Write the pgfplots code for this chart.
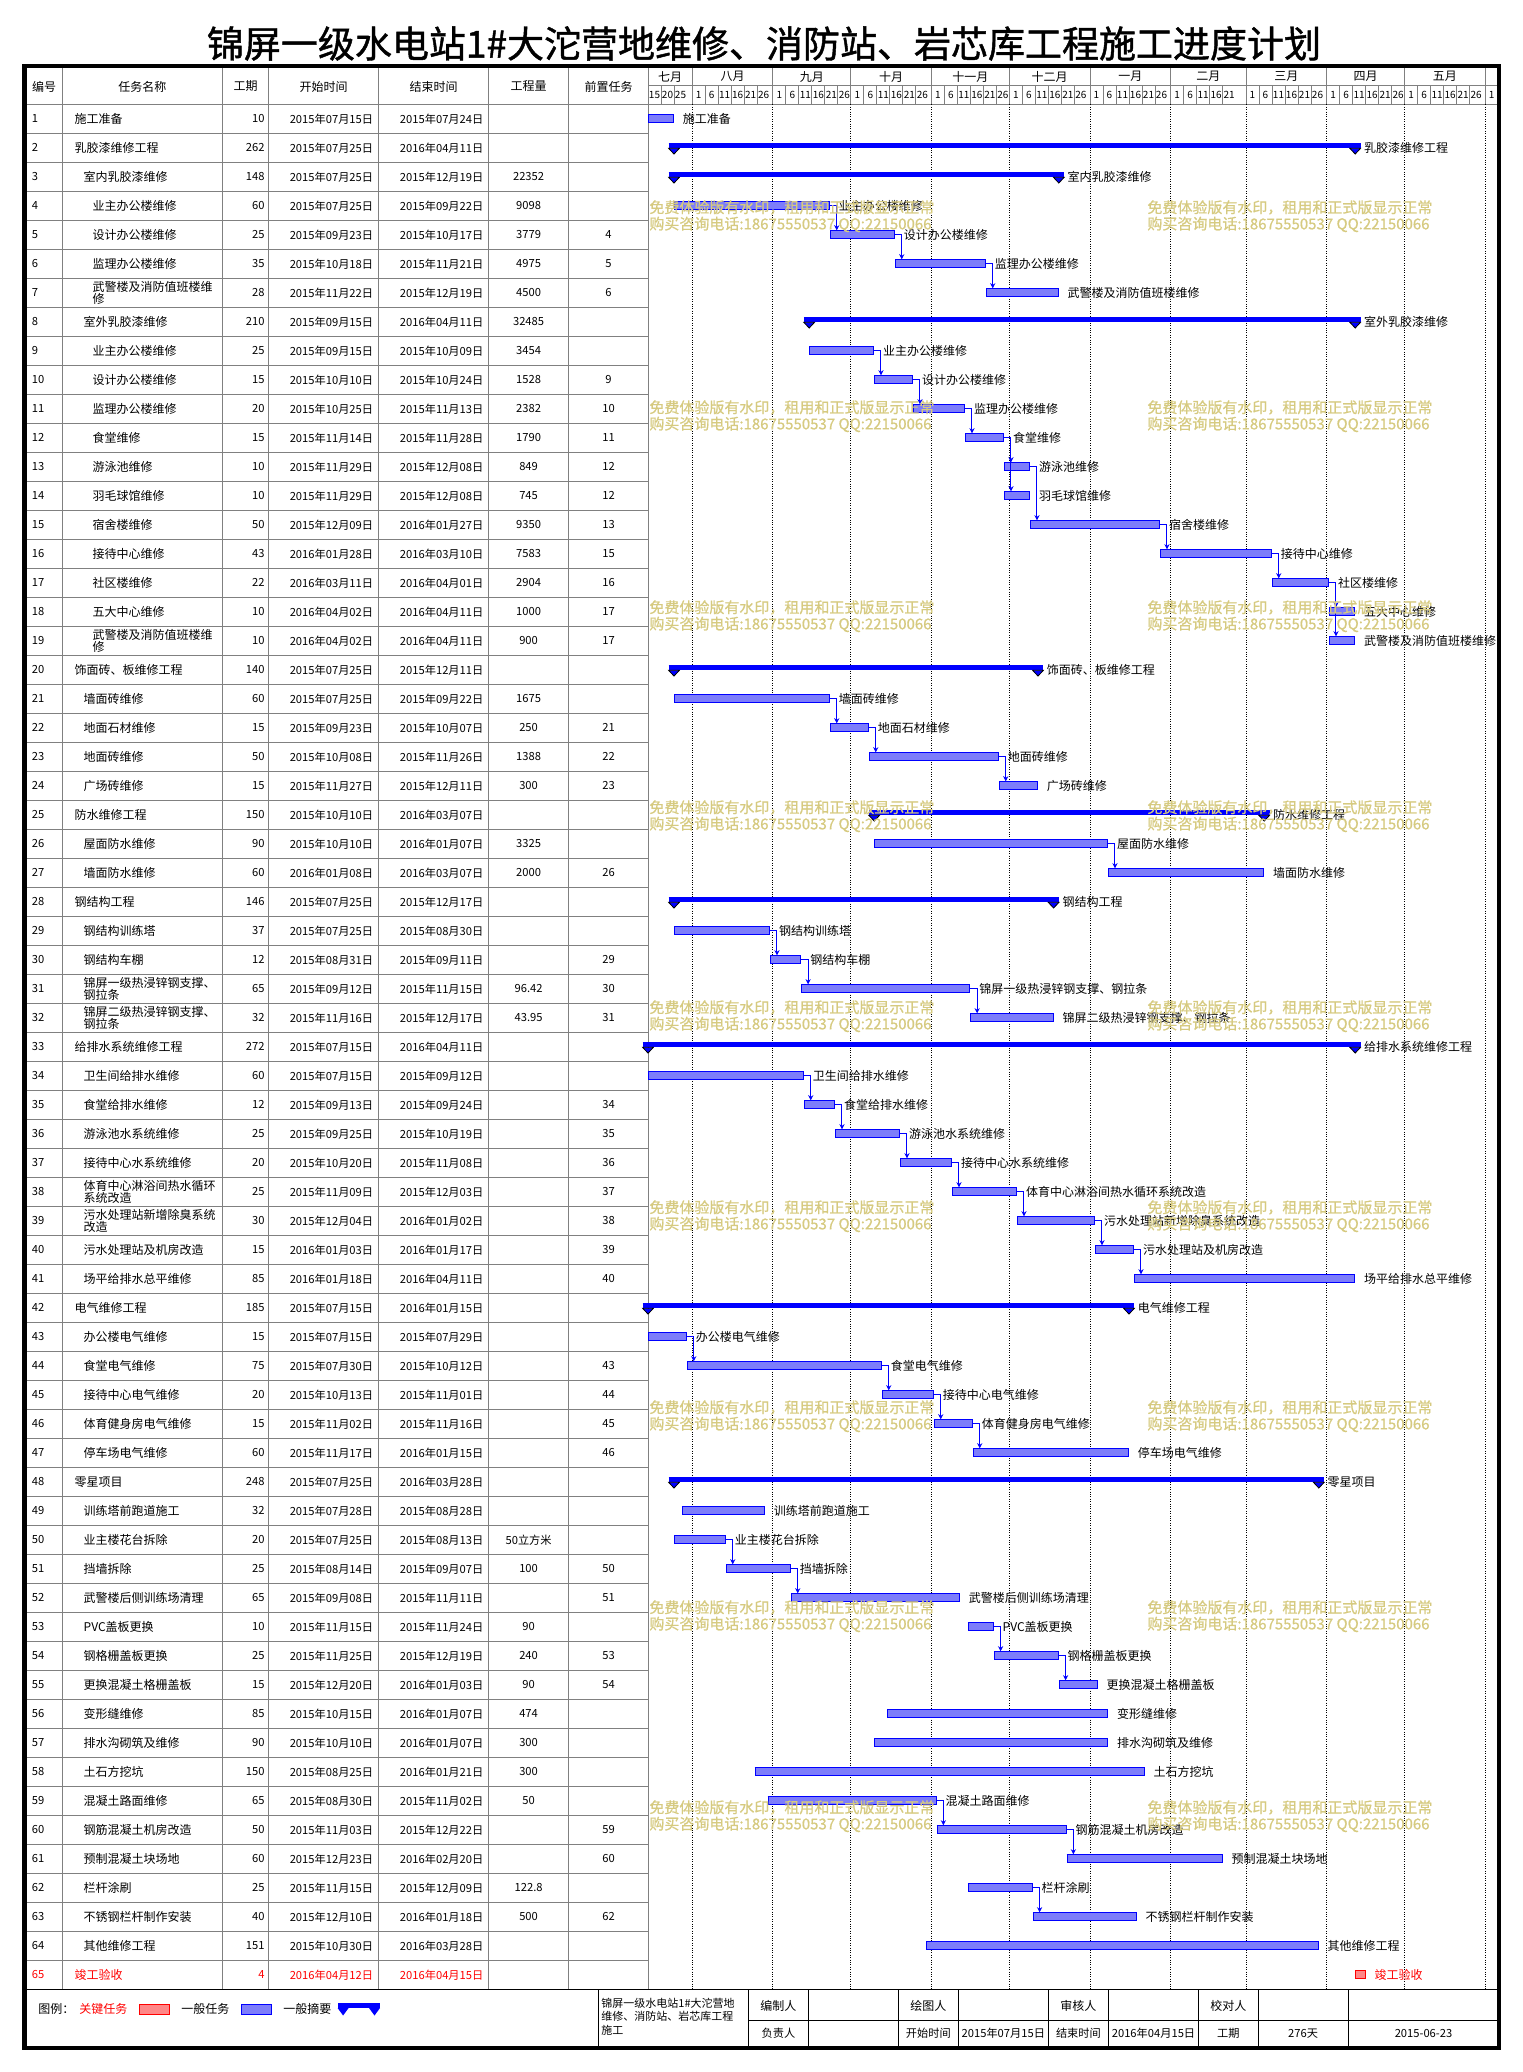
\documentclass[border=0pt]{standalone}
\usepackage{fontspec}
\setmainfont{Noto Sans CJK SC}
\newfontfamily\titlefont[FakeBold=1.2]{Noto Sans CJK SC}
\newfontfamily\wmfont[FakeBold=0.8]{Noto Sans CJK SC}
\usepackage{pgfplots}
\usepackage{pgfplotstable}
\pgfplotsset{compat=1.18}
\usetikzlibrary{arrows.meta}
\definecolor{barfill}{RGB}{125,125,250}
\definecolor{critfill}{RGB}{255,135,135}
\definecolor{wm}{RGB}{214,202,128}
\definecolor{gridgray}{RGB}{128,128,128}
\newcommand\tf{\fontsize{6}{6.2}\selectfont}
\newcommand\nf{\fontsize{5.6}{6.2}\selectfont}

\pgfplotstableread{
r s d name
1 0 10 施工准备
4 10 60 业主办公楼维修
5 70 25 设计办公楼维修
6 95 35 监理办公楼维修
7 130 28 武警楼及消防值班楼维修
9 62 25 业主办公楼维修
10 87 15 设计办公楼维修
11 102 20 监理办公楼维修
12 122 15 食堂维修
13 137 10 游泳池维修
14 137 10 羽毛球馆维修
15 147 50 宿舍楼维修
16 197 43 接待中心维修
17 240 22 社区楼维修
18 262 10 五大中心维修
19 262 10 武警楼及消防值班楼维修
21 10 60 墙面砖维修
22 70 15 地面石材维修
23 85 50 地面砖维修
24 135 15 广场砖维修
26 87 90 屋面防水维修
27 177 60 墙面防水维修
29 10 37 钢结构训练塔
30 47 12 钢结构车棚
31 59 65 锦屏一级热浸锌钢支撑、钢拉条
32 124 32 锦屏二级热浸锌钢支撑、钢拉条
34 0 60 卫生间给排水维修
35 60 12 食堂给排水维修
36 72 25 游泳池水系统维修
37 97 20 接待中心水系统维修
38 117 25 体育中心淋浴间热水循环系统改造
39 142 30 污水处理站新增除臭系统改造
40 172 15 污水处理站及机房改造
41 187 85 场平给排水总平维修
43 0 15 办公楼电气维修
44 15 75 食堂电气维修
45 90 20 接待中心电气维修
46 110 15 体育健身房电气维修
47 125 60 停车场电气维修
49 13 32 训练塔前跑道施工
50 10 20 业主楼花台拆除
51 30 25 挡墙拆除
52 55 65 武警楼后侧训练场清理
53 123 10 PVC盖板更换
54 133 25 钢格栅盖板更换
55 158 15 更换混凝土格栅盖板
56 92 85 变形缝维修
57 87 90 排水沟砌筑及维修
58 41 150 土石方挖坑
59 46 65 混凝土路面维修
60 111 50 钢筋混凝土机房改造
61 161 60 预制混凝土块场地
62 123 25 栏杆涂刷
63 148 40 不锈钢栏杆制作安装
64 107 151 其他维修工程
}\regular

\pgfplotstableread{
r s d name
2 10 262 乳胶漆维修工程
3 10 148 室内乳胶漆维修
8 62 210 室外乳胶漆维修
20 10 140 饰面砖、板维修工程
25 87 150 防水维修工程
28 10 146 钢结构工程
33 0 272 给排水系统维修工程
42 0 185 电气维修工程
48 10 248 零星项目
}\summary

\pgfplotstableread{
r s d name
65 272 4 竣工验收
}\critical

\begin{document}
\begin{tikzpicture}
\begin{scope}[x=0.5pt,y=-0.5pt]
% title
\node[font=\titlefont\fontsize{18.5}{20}\selectfont, inner sep=0pt] at (764,43.5) {锦屏一级水电站1\#大沱营地维修、消防站、岩芯库工程施工进度计划};
% table grid
\foreach \k in {0,...,64} \draw[gridgray, line width=0.5pt] (26,{104.3+29*\k}) -- (648,{104.3+29*\k});
\foreach \x in {62.4,222.4,268.6,378.4,488.6,568.6,648} \draw[gridgray, line width=0.5pt] (\x,68) -- (\x,1989.3);
% gantt header
\draw[gridgray, line width=0.5pt] (648,85) -- (1497,85);
\draw[gridgray, line width=0.5pt] (648,104.3) -- (1497,104.3);
\foreach \d in {17,48,78,109,139,170,201,230,261,291,322}
  \draw[gridgray, line width=0.5pt] ({648+2.6*\d},68) -- ({648+2.6*\d},104.3);
\foreach \d in {5,10,22,27,32,37,42,53,58,63,68,73,83,88,93,98,103,114,119,124,129,134,144,149,154,159,164,175,180,185,190,195,206,211,216,221,235,240,245,250,255,266,271,276,281,286,296,301,306,311,316}
  \draw[gridgray, line width=0.5pt] ({648+2.6*\d},85) -- ({648+2.6*\d},104.3);
\foreach \c/\m in {8.5/七月,32.5/八月,63/九月,93.5/十月,124/十一月,154.5/十二月,185.5/一月,215.5/二月,245.5/三月,276/四月,306.5/五月}
  \node[font=\tf, inner sep=0pt] at ({648+2.6*\c},76.7) {\m};
\foreach \d/\l in {0/15,5/20,10/25,17/1,22/6,27/11,32/16,37/21,42/26,48/1,53/6,58/11,63/16,68/21,73/26,78/1,83/6,88/11,93/16,98/21,103/26,109/1,114/6,119/11,124/16,129/21,134/26,139/1,144/6,149/11,154/16,159/21,164/26,170/1,175/6,180/11,185/16,190/21,195/26,201/1,206/6,211/11,216/16,221/21,230/1,235/6,240/11,245/16,250/21,255/26,261/1,266/6,271/11,276/16,281/21,286/26,291/1,296/6,301/11,306/16,311/21,316/26,322/1}
  \node[font=\fontsize{5}{5}\selectfont, inner sep=0pt] at ({648+2.6*(\d+2.5)},94.6) {\l};
% table header labels
\foreach \x/\t in {44.2/编号,142.4/任务名称,245.5/工期,323.5/开始时间,433.5/结束时间,528.6/工程量,608.5/前置任务}
  \node[font=\tf, inner sep=0pt] at (\x,86.5) {\t};
% rows
\foreach \i/\lv/\nm/\du/\sd/\ed/\q/\p in {
1/1/施工准备/10/2015年07月15日/2015年07月24日/{}/{},
2/1/乳胶漆维修工程/262/2015年07月25日/2016年04月11日/{}/{},
3/2/室内乳胶漆维修/148/2015年07月25日/2015年12月19日/22352/{},
4/3/业主办公楼维修/60/2015年07月25日/2015年09月22日/9098/{},
5/3/设计办公楼维修/25/2015年09月23日/2015年10月17日/3779/4,
6/3/监理办公楼维修/35/2015年10月18日/2015年11月21日/4975/5,
7/3/{武警楼及消防值班楼维\\修}/28/2015年11月22日/2015年12月19日/4500/6,
8/2/室外乳胶漆维修/210/2015年09月15日/2016年04月11日/32485/{},
9/3/业主办公楼维修/25/2015年09月15日/2015年10月09日/3454/{},
10/3/设计办公楼维修/15/2015年10月10日/2015年10月24日/1528/9,
11/3/监理办公楼维修/20/2015年10月25日/2015年11月13日/2382/10,
12/3/食堂维修/15/2015年11月14日/2015年11月28日/1790/11,
13/3/游泳池维修/10/2015年11月29日/2015年12月08日/849/12,
14/3/羽毛球馆维修/10/2015年11月29日/2015年12月08日/745/12,
15/3/宿舍楼维修/50/2015年12月09日/2016年01月27日/9350/13,
16/3/接待中心维修/43/2016年01月28日/2016年03月10日/7583/15,
17/3/社区楼维修/22/2016年03月11日/2016年04月01日/2904/16,
18/3/五大中心维修/10/2016年04月02日/2016年04月11日/1000/17,
19/3/{武警楼及消防值班楼维\\修}/10/2016年04月02日/2016年04月11日/900/17,
20/1/饰面砖、板维修工程/140/2015年07月25日/2015年12月11日/{}/{},
21/2/墙面砖维修/60/2015年07月25日/2015年09月22日/1675/{},
22/2/地面石材维修/15/2015年09月23日/2015年10月07日/250/21,
23/2/地面砖维修/50/2015年10月08日/2015年11月26日/1388/22,
24/2/广场砖维修/15/2015年11月27日/2015年12月11日/300/23,
25/1/防水维修工程/150/2015年10月10日/2016年03月07日/{}/{},
26/2/屋面防水维修/90/2015年10月10日/2016年01月07日/3325/{},
27/2/墙面防水维修/60/2016年01月08日/2016年03月07日/2000/26,
28/1/钢结构工程/146/2015年07月25日/2015年12月17日/{}/{},
29/2/钢结构训练塔/37/2015年07月25日/2015年08月30日/{}/{},
30/2/钢结构车棚/12/2015年08月31日/2015年09月11日/{}/29,
31/2/{锦屏一级热浸锌钢支撑、\\钢拉条}/65/2015年09月12日/2015年11月15日/96.42/30,
32/2/{锦屏二级热浸锌钢支撑、\\钢拉条}/32/2015年11月16日/2015年12月17日/43.95/31,
33/1/给排水系统维修工程/272/2015年07月15日/2016年04月11日/{}/{},
34/2/卫生间给排水维修/60/2015年07月15日/2015年09月12日/{}/{},
35/2/食堂给排水维修/12/2015年09月13日/2015年09月24日/{}/34,
36/2/游泳池水系统维修/25/2015年09月25日/2015年10月19日/{}/35,
37/2/接待中心水系统维修/20/2015年10月20日/2015年11月08日/{}/36,
38/2/{体育中心淋浴间热水循环\\系统改造}/25/2015年11月09日/2015年12月03日/{}/37,
39/2/{污水处理站新增除臭系统\\改造}/30/2015年12月04日/2016年01月02日/{}/38,
40/2/污水处理站及机房改造/15/2016年01月03日/2016年01月17日/{}/39,
41/2/场平给排水总平维修/85/2016年01月18日/2016年04月11日/{}/40,
42/1/电气维修工程/185/2015年07月15日/2016年01月15日/{}/{},
43/2/办公楼电气维修/15/2015年07月15日/2015年07月29日/{}/{},
44/2/食堂电气维修/75/2015年07月30日/2015年10月12日/{}/43,
45/2/接待中心电气维修/20/2015年10月13日/2015年11月01日/{}/44,
46/2/体育健身房电气维修/15/2015年11月02日/2015年11月16日/{}/45,
47/2/停车场电气维修/60/2015年11月17日/2016年01月15日/{}/46,
48/1/零星项目/248/2015年07月25日/2016年03月28日/{}/{},
49/2/训练塔前跑道施工/32/2015年07月28日/2015年08月28日/{}/{},
50/2/业主楼花台拆除/20/2015年07月25日/2015年08月13日/50立方米/{},
51/2/挡墙拆除/25/2015年08月14日/2015年09月07日/100/50,
52/2/武警楼后侧训练场清理/65/2015年09月08日/2015年11月11日/{}/51,
53/2/PVC盖板更换/10/2015年11月15日/2015年11月24日/90/{},
54/2/钢格栅盖板更换/25/2015年11月25日/2015年12月19日/240/53,
55/2/更换混凝土格栅盖板/15/2015年12月20日/2016年01月03日/90/54,
56/2/变形缝维修/85/2015年10月15日/2016年01月07日/474/{},
57/2/排水沟砌筑及维修/90/2015年10月10日/2016年01月07日/300/{},
58/2/土石方挖坑/150/2015年08月25日/2016年01月21日/300/{},
59/2/混凝土路面维修/65/2015年08月30日/2015年11月02日/50/{},
60/2/钢筋混凝土机房改造/50/2015年11月03日/2015年12月22日/{}/59,
61/2/预制混凝土块场地/60/2015年12月23日/2016年02月20日/{}/60,
62/2/栏杆涂刷/25/2015年11月15日/2015年12月09日/122.8/{},
63/2/不锈钢栏杆制作安装/40/2015年12月10日/2016年01月18日/500/62,
64/2/其他维修工程/151/2015年10月30日/2016年03月28日/{}/{}}
{
  \node[font=\nf, anchor=west, inner sep=0pt] at (31.4,{89.8+29*\i}) {\i};
  \node[font=\tf, anchor=west, inner sep=0pt, align=left] at ({65.3+9*\lv},{89.8+29*\i}) {\nm};
  \node[font=\nf, anchor=east, inner sep=0pt] at (265,{89.8+29*\i}) {\du};
  \node[font=\nf, anchor=east, inner sep=0pt] at (373.5,{89.8+29*\i}) {\sd};
  \node[font=\nf, anchor=east, inner sep=0pt] at (483.7,{89.8+29*\i}) {\ed};
  \node[font=\nf, inner sep=0pt] at (528.6,{89.8+29*\i}) {\q};
  \node[font=\nf, inner sep=0pt] at (608.5,{89.8+29*\i}) {\p};
}
\node[font=\nf, anchor=west, inner sep=0pt, text=red] at (31.4,1974.8) {65};
\node[font=\tf, anchor=west, inner sep=0pt, text=red] at (74.3,1974.8) {竣工验收};
\node[font=\nf, anchor=east, inner sep=0pt, text=red] at (265,1974.8) {4};
\node[font=\nf, anchor=east, inner sep=0pt, text=red] at (373.5,1974.8) {2016年04月12日};
\node[font=\nf, anchor=east, inner sep=0pt, text=red] at (483.7,1974.8) {2016年04月15日};
\end{scope}

\begin{axis}[
  at={(324pt,-52.15pt)}, anchor=north west,
  width=425.1pt, height=942.5pt, scale only axis,
  xmin=0, xmax=327, ymin=0.5, ymax=65.5, y dir=reverse,
  axis line style={draw=none},
  xtick={17,48,78,109,139,170,201,230,261,291,322},
  xticklabels={}, ytick=\empty,
  major tick length=0pt, tick style={draw=none},
  xmajorgrids, grid style={black, line width=0.5pt, dash pattern=on 0.5pt off 0.7pt},
  clip=false,
  conn/.style={blue, line width=0.5pt, -{Stealth[length=2.6pt,width=2.6pt]}},
]
% regular bars
\addplot[draw=none, mark=none, error bars/.cd, x dir=plus, x explicit, error mark=none,
  error bar style={line width=4.5pt, draw=blue}]
  table[x=s, y=r, x error plus=d]{\regular};
\addplot[draw=none, mark=none, error bars/.cd, x dir=plus, x explicit, error mark=none,
  error bar style={line width=3.5pt, draw=barfill}]
  table[x expr=\thisrow{s}+0.385, y=r, x error plus expr=\thisrow{d}-0.77]{\regular};
% critical bar
\addplot[draw=none, mark=none, error bars/.cd, x dir=plus, x explicit, error mark=none,
  error bar style={line width=4.5pt, draw=red}]
  table[x=s, y=r, x error plus=d]{\critical};
\addplot[draw=none, mark=none, error bars/.cd, x dir=plus, x explicit, error mark=none,
  error bar style={line width=3.5pt, draw=critfill}]
  table[x expr=\thisrow{s}+0.385, y=r, x error plus expr=\thisrow{d}-0.77]{\critical};
% summary bars
\addplot[draw=none, mark=none, error bars/.cd, x dir=plus, x explicit, error mark=none,
  error bar style={line width=2.5pt, draw=blue}]
  table[x expr=\thisrow{s}-2.04, y expr=\thisrow{r}-0.069, x error plus expr=\thisrow{d}+4.08]{\summary};
\addplot[only marks, mark=triangle*, mark size=3.09pt, mark options={draw=none, fill=blue, rotate=180, yscale=0.615}]
  table[x=s, y expr=\thisrow{r}+0.083]{\summary};
\addplot[only marks, mark=triangle*, mark size=3.09pt, mark options={draw=none, fill=blue, rotate=180, yscale=0.615}]
  table[x expr=\thisrow{s}+\thisrow{d}, y expr=\thisrow{r}+0.083]{\summary};
% connectors
\addplot[conn] coordinates {(70,4) (72.6,4) (72.6,4.845)};
\addplot[conn] coordinates {(95,5) (97.6,5) (97.6,5.845)};
\addplot[conn] coordinates {(130,6) (132.6,6) (132.6,6.845)};
\addplot[conn] coordinates {(87,9) (89.6,9) (89.6,9.845)};
\addplot[conn] coordinates {(102,10) (104.6,10) (104.6,10.845)};
\addplot[conn] coordinates {(122,11) (124.6,11) (124.6,11.845)};
\addplot[conn] coordinates {(137,12) (139.6,12) (139.6,12.845)};
\addplot[conn] coordinates {(137,12) (139.6,12) (139.6,13.845)};
\addplot[conn] coordinates {(147,13) (149.6,13) (149.6,14.845)};
\addplot[conn] coordinates {(197,15) (199.6,15) (199.6,15.845)};
\addplot[conn] coordinates {(240,16) (242.6,16) (242.6,16.845)};
\addplot[conn] coordinates {(262,17) (264.6,17) (264.6,17.845)};
\addplot[conn] coordinates {(262,17) (264.6,17) (264.6,18.845)};
\addplot[conn] coordinates {(70,21) (72.6,21) (72.6,21.845)};
\addplot[conn] coordinates {(85,22) (87.6,22) (87.6,22.845)};
\addplot[conn] coordinates {(135,23) (137.6,23) (137.6,23.845)};
\addplot[conn] coordinates {(177,26) (179.6,26) (179.6,26.845)};
\addplot[conn] coordinates {(47,29) (49.6,29) (49.6,29.845)};
\addplot[conn] coordinates {(59,30) (61.6,30) (61.6,30.845)};
\addplot[conn] coordinates {(124,31) (126.6,31) (126.6,31.845)};
\addplot[conn] coordinates {(60,34) (62.6,34) (62.6,34.845)};
\addplot[conn] coordinates {(72,35) (74.6,35) (74.6,35.845)};
\addplot[conn] coordinates {(97,36) (99.6,36) (99.6,36.845)};
\addplot[conn] coordinates {(117,37) (119.6,37) (119.6,37.845)};
\addplot[conn] coordinates {(142,38) (144.6,38) (144.6,38.845)};
\addplot[conn] coordinates {(172,39) (174.6,39) (174.6,39.845)};
\addplot[conn] coordinates {(187,40) (189.6,40) (189.6,40.845)};
\addplot[conn] coordinates {(15,43) (17.6,43) (17.6,43.845)};
\addplot[conn] coordinates {(90,44) (92.6,44) (92.6,44.845)};
\addplot[conn] coordinates {(110,45) (112.6,45) (112.6,45.845)};
\addplot[conn] coordinates {(125,46) (127.6,46) (127.6,46.845)};
\addplot[conn] coordinates {(30,50) (32.6,50) (32.6,50.845)};
\addplot[conn] coordinates {(55,51) (57.6,51) (57.6,51.845)};
\addplot[conn] coordinates {(133,53) (135.6,53) (135.6,53.845)};
\addplot[conn] coordinates {(158,54) (160.6,54) (160.6,54.845)};
\addplot[conn] coordinates {(111,59) (113.6,59) (113.6,59.845)};
\addplot[conn] coordinates {(161,60) (163.6,60) (163.6,60.845)};
\addplot[conn] coordinates {(148,62) (150.6,62) (150.6,62.845)};
% labels
\addplot[draw=none, mark=none, nodes near coords, point meta=explicit symbolic,
  every node near coord/.append style={anchor=west, xshift=4.25pt, inner sep=0pt, font=\tf, text=black}]
  table[x expr=\thisrow{s}+\thisrow{d}, y=r, meta=name]{\regular};
\addplot[draw=none, mark=none, nodes near coords, point meta=explicit symbolic,
  every node near coord/.append style={anchor=west, xshift=4.25pt, inner sep=0pt, font=\tf, text=black}]
  table[x expr=\thisrow{s}+\thisrow{d}, y=r, meta=name]{\summary};
\addplot[draw=none, mark=none, nodes near coords, point meta=explicit symbolic,
  every node near coord/.append style={anchor=west, xshift=4.25pt, inner sep=0pt, font=\tf, text=red}]
  table[x expr=\thisrow{s}+\thisrow{d}, y=r, meta=name]{\critical};
\end{axis}

\begin{scope}[x=0.5pt,y=-0.5pt]
% watermarks
\foreach \k in {0,...,8} {
  \foreach \x in {649,1147} {
    \node[font=\wmfont\fontsize{7.5}{8}\selectfont, text=wm, anchor=west, inner sep=0pt] at (\x,{207.4+200*\k}) {免费体验版有水印，租用和正式版显示正常};
    \node[font=\wmfont\fontsize{7.5}{8}\selectfont, text=wm, anchor=west, inner sep=0pt] at (\x,{224.4+200*\k}) {购买咨询电话:18675550537 QQ:22150066};
  }
}
% footer
\draw[black, line width=0.75pt] (26,1989.5) -- (1497,1989.5);
\draw[black, line width=0.5pt] (598.8,1989.5) -- (598.8,2046);
\foreach \x in {748.5,808.2,898.2,958.3,1048.3,1108.5,1198.5,1258.1,1348.1}
  \draw[black, line width=0.5pt] (\x,1989.5) -- (\x,2046);
\draw[black, line width=0.5pt] (748.5,2020) -- (1497,2020);
\node[font=\fontsize{5.5}{6.6}\selectfont, anchor=north west, inner sep=0pt, align=left] at (601,1998) {锦屏一级水电站1\#大沱营地\\维修、消防站、岩芯库工程\\施工};
\foreach \x/\t in {778.4/编制人,928.3/绘图人,1078.4/审核人,1228.3/校对人}
  \node[font=\tf, inner sep=0pt] at (\x,2005.5) {\t};
\foreach \x/\t in {778.4/负责人,928.3/开始时间,1003.3/2015年07月15日,1078.4/结束时间,1153.5/2016年04月15日,1228.3/工期,1303.1/276天,1423.5/2015-06-23}
  \node[font=\nf, inner sep=0pt] at (\x,2033.5) {\t};
% legend
\node[font=\tf, anchor=west, inner sep=0pt] at (38,2009) {图例：};
\node[font=\tf, anchor=west, inner sep=0pt, text=red] at (79,2009) {关键任务};
\draw[red, fill=critfill, line width=0.5pt] (139.5,2004.5) rectangle (169,2014);
\node[font=\tf, anchor=west, inner sep=0pt] at (181,2009) {一般任务};
\draw[blue, fill=barfill, line width=0.5pt] (241.5,2004.5) rectangle (271,2014);
\node[font=\tf, anchor=west, inner sep=0pt] at (283,2009) {一般摘要};
\fill[blue] (337.6,2003.3) rectangle (380,2008.3);
\fill[blue] (337.6,2008) -- (348.6,2008) -- (343.1,2015.5) -- cycle;
\fill[blue] (369,2008) -- (380,2008) -- (374.5,2015.5) -- cycle;
% frame
\draw[black, line width=2.4pt] (24.5,66) rectangle (1499,2048);
\end{scope}
\pgfresetboundingbox
\path (0pt,0pt) rectangle (761pt,-1036pt);
\end{tikzpicture}
\end{document}
